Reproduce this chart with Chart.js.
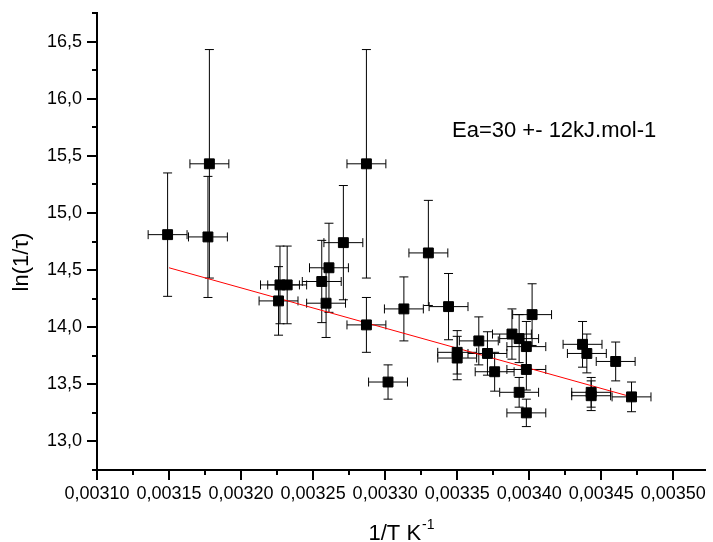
<!DOCTYPE html>
<html>
<head>
<meta charset="utf-8">
<script src="https://cdn.jsdelivr.net/npm/chart.js@4/dist/chart.umd.min.js"></script>
<style>
  html, body { margin: 0; padding: 0; background: #fff; }
  #wrap { width: 713px; height: 542px; }
</style>
</head>
<body>
<div id="wrap"><canvas id="arrhenius"></canvas></div>
<script>
// 1/T values (K^-1)
const invT = [0.003149, 0.003178, 0.003177, 0.003226, 0.003227, 0.003232, 0.003256, 0.003261,
              0.003259, 0.003271, 0.003287, 0.003287, 0.003302, 0.003313, 0.003330, 0.003344,
              0.003350, 0.003350, 0.003365, 0.003371, 0.003376, 0.003388, 0.003393, 0.003398,
              0.003402, 0.003398, 0.003393, 0.003398, 0.003437, 0.003440, 0.003443, 0.003443,
              0.003460, 0.003471];
// ln(1/tau)
const lnRate = [14.81, 15.43, 14.79, 14.23, 14.37, 14.37, 14.40, 14.52,
                14.21, 14.74, 15.43, 14.02, 13.52, 14.16, 14.65, 14.18,
                13.78, 13.73, 13.88, 13.77, 13.61, 13.94, 13.90, 13.83,
                14.11, 13.63, 13.43, 13.25, 13.85, 13.77, 13.43, 13.40,
                13.70, 13.39];
// error bars (half widths)
const lnRateErr = [0.54, 1.00, 0.53, 0.30, 0.34, 0.34, 0.36, 0.39,
                   0.30, 0.50, 1.00, 0.24, 0.15, 0.28, 0.46, 0.29,
                   0.19, 0.19, 0.21, 0.19, 0.17, 0.22, 0.21, 0.22,
                   0.27, 0.18, 0.13, 0.12, 0.20, 0.17, 0.13, 0.13,
                   0.17, 0.13];
const invTErr = 0.0000135;

// linear fit (red line)
const fitX = [0.00315, 0.003471];
const fitY = [14.52, 13.39];

// tick values
const xTicks = [0.00310, 0.00315, 0.00320, 0.00325, 0.00330, 0.00335, 0.00340, 0.00345, 0.00350];
const yTicks = [13.0, 13.5, 14.0, 14.5, 15.0, 15.5, 16.0, 16.5];

const annotation = 'Ea=30 +- 12kJ.mol-1';
const FONT = 'Arial, "Liberation Sans", sans-serif';

Chart.defaults.color = '#000';
Chart.defaults.font.family = FONT;

const errorBars = {
    id: 'errorBars',
    beforeDatasetsDraw(chart) {
        const {ctx, scales: {x, y}} = chart;
        const cap = 4.5;
        ctx.save();
        ctx.strokeStyle = '#000';
        ctx.lineWidth = 1;
        ctx.beginPath();
        for (let i = 0; i < invT.length; i++) {
            const px = x.getPixelForValue(invT[i]);
            const py = y.getPixelForValue(lnRate[i]);
            const top = y.getPixelForValue(lnRate[i] + lnRateErr[i]);
            const bot = y.getPixelForValue(lnRate[i] - lnRateErr[i]);
            const left = x.getPixelForValue(invT[i] - invTErr);
            const right = x.getPixelForValue(invT[i] + invTErr);
            ctx.moveTo(px, top); ctx.lineTo(px, bot);
            ctx.moveTo(px - cap, top); ctx.lineTo(px + cap, top);
            ctx.moveTo(px - cap, bot); ctx.lineTo(px + cap, bot);
            ctx.moveTo(left, py); ctx.lineTo(right, py);
            ctx.moveTo(left, py - cap); ctx.lineTo(left, py + cap);
            ctx.moveTo(right, py - cap); ctx.lineTo(right, py + cap);
        }
        ctx.stroke();
        ctx.restore();
    }
};

// minor ticks, axis titles and the Ea label
const extras = {
    id: 'extras',
    afterDraw(chart) {
        const {ctx, chartArea: area, scales: {x, y}} = chart;
        ctx.save();
        ctx.strokeStyle = '#000';
        ctx.lineWidth = 2;
        ctx.beginPath();
        const xs = (xTicks[1] - xTicks[0]) / 2;
        for (let v = xTicks[0] + xs; v <= x.max + 1e-9; v += 2 * xs) {
            const px = Math.round(x.getPixelForValue(v));
            ctx.moveTo(px, area.bottom); ctx.lineTo(px, area.bottom + 5);
        }
        const ys = (yTicks[1] - yTicks[0]) / 2;
        for (let v = yTicks[0] - ys; v <= y.max + 1e-9; v += 2 * ys) {
            const py = Math.round(y.getPixelForValue(v));
            ctx.moveTo(area.left, py); ctx.lineTo(area.left - 5, py);
        }
        ctx.stroke();

        ctx.fillStyle = '#000';
        // y title
        ctx.save();
        ctx.translate(22, 262);
        ctx.rotate(-Math.PI / 2);
        ctx.font = '22px ' + FONT;
        ctx.textAlign = 'center';
        ctx.textBaseline = 'middle';
        ctx.fillText('ln(1/\u03C4)', 0, 0);
        ctx.restore();

        // x title with superscript
        ctx.font = '22px ' + FONT;
        const main = '1/T K';
        const wMain = ctx.measureText(main).width;
        ctx.font = '14px ' + FONT;
        const sup = '-1';
        const wSup = ctx.measureText(sup).width;
        const startX = (area.left + area.right) / 2 - (wMain + wSup) / 2;
        ctx.textAlign = 'left';
        ctx.textBaseline = 'alphabetic';
        ctx.font = '22px ' + FONT;
        ctx.fillText(main, startX, 540);
        ctx.font = '14px ' + FONT;
        ctx.fillText(sup, startX + wMain + 1, 529);

        // annotation
        ctx.font = '22px ' + FONT;
        ctx.fillText(annotation, 452, 137);
        ctx.restore();
    }
};

const ctx = document.getElementById('arrhenius').getContext('2d');
new Chart(ctx, {
    type: 'scatter',
    data: {
        datasets: [{
            label: 'data',
            data: invT.map((v, i) => ({x: v, y: lnRate[i]})),
            pointStyle: 'rect',
            pointRadius: 7,
            pointHoverRadius: 7,
            backgroundColor: '#000',
            borderColor: '#000',
            borderWidth: 1
        }, {
            label: 'fit',
            data: fitX.map((v, i) => ({x: v, y: fitY[i]})),
            showLine: true,
            pointRadius: 0,
            borderColor: '#ff0000',
            borderWidth: 1
        }]
    },
    options: {
        responsive: true,
        maintainAspectRatio: false,
        animation: false,
        layout: { padding: { top: 13, right: 1, left: 0, bottom: 0 } },
        plugins: {
            legend: { display: false },
            tooltip: { enabled: false }
        },
        scales: {
            x: {
                type: 'linear',
                min: 0.0031,
                max: 0.003522,
                afterBuildTicks: (scale) => { scale.ticks = xTicks.map(v => ({value: v})); },
                afterFit: (scale) => {
                    scale.height = 72;
                    scale.paddingLeft = 0;
                    scale.paddingRight = 0;
                },
                ticks: {
                    autoSkip: false,
                    maxRotation: 0,
                    padding: 3,
                    font: { size: 18 },
                    callback: (v) => v.toFixed(5).replace('.', ',')
                },
                grid: { display: true, drawOnChartArea: false, drawTicks: true, tickLength: 10, color: '#000', lineWidth: 2 },
                border: { display: true, color: '#000', width: 2 }
            },
            y: {
                min: 12.75,
                max: 16.75,
                afterBuildTicks: (scale) => { scale.ticks = yTicks.map(v => ({value: v})); },
                afterFit: (scale) => {
                    scale.width = 97;
                    scale.paddingTop = 0;
                    scale.paddingBottom = 0;
                },
                ticks: {
                    autoSkip: false,
                    padding: 5,
                    font: { size: 18 },
                    callback: (v) => v.toFixed(1).replace('.', ',')
                },
                grid: { display: true, drawOnChartArea: false, drawTicks: true, tickLength: 10, color: '#000', lineWidth: 2 },
                border: { display: true, color: '#000', width: 2 }
            }
        }
    },
    plugins: [errorBars, extras]
});
</script>
</body>
</html>
